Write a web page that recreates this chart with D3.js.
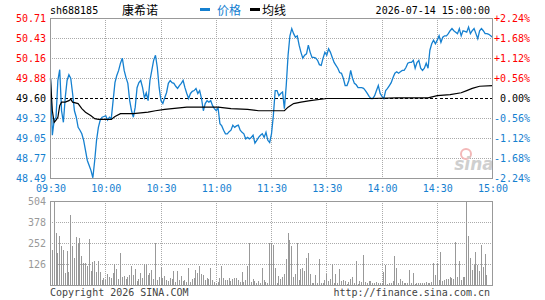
<!DOCTYPE html>
<html>
<head>
<meta charset="utf-8">
<script src="https://cdn.jsdelivr.net/npm/d3@7/dist/d3.min.js"></script>
<style>
body { margin: 0; background: #fff; }
svg text { font-family: "DejaVu Sans Mono", monospace; font-size: 10px; }
</style>
</head>
<body>
<svg id="chart" width="545" height="300"></svg>
<script>
// header info
var stockCode = "sh688185", stockName = "康希诺", stamp = "2026-07-14 15:00:00";
var preClose = 49.60;

// axis labels
var priceLabels = [50.71, 50.43, 50.16, 49.88, 49.60, 49.32, 49.05, 48.77, 48.49];
var pctLabels = ["+2.24%", "+1.68%", "+1.12%", "+0.56%", "0.00%", "-0.56%", "-1.12%", "-1.68%", "-2.24%"];
var timeLabels = ["09:30", "10:00", "10:30", "11:00", "11:30", "13:30", "14:00", "14:30", "15:00"];
var timeMinutes = [0, 30, 60, 90, 120, 150, 180, 210, 240];
var volLabels = [126, 252, 378, 504];

// price per minute (09:30-11:30, 13:01-15:00)
var price = [
  49.88,49.09,49.30,49.34,49.85,50.00,49.43,49.27,49.61,49.85,
  49.93,49.88,49.67,49.43,49.34,49.20,49.16,49.11,49.02,48.88,
  48.74,48.67,48.60,48.50,48.74,49.02,49.20,49.30,49.34,49.35,
  49.36,49.30,49.34,49.32,49.57,49.82,49.92,49.99,50.09,50.16,
  49.99,49.89,49.81,49.57,49.43,49.34,49.48,49.75,49.82,49.85,
  49.75,49.61,49.68,49.57,49.85,49.99,50.13,50.20,50.03,49.75,
  49.57,49.53,49.61,49.68,49.81,49.85,49.82,49.81,49.77,49.74,
  49.78,49.81,49.85,49.75,49.67,49.60,49.67,49.70,49.71,49.74,
  49.67,49.71,49.60,49.43,49.53,49.57,49.55,49.57,49.50,49.46,
  49.43,49.47,49.25,49.22,49.16,49.11,49.11,49.14,49.16,49.23,
  49.20,49.22,49.23,49.16,49.13,49.11,49.04,49.06,49.04,49.06,
  49.09,48.98,49.02,49.06,49.09,49.11,49.06,49.13,49.02,48.99,
  49.11,
  49.36,49.71,49.71,49.64,49.67,49.69,49.46,49.78,50.20,50.47,
  50.57,50.50,50.45,50.47,50.34,50.24,50.16,50.20,50.22,50.34,
  50.24,50.17,50.17,50.16,50.13,50.07,50.06,50.16,50.24,50.20,
  50.29,50.24,50.17,50.10,50.06,50.02,49.96,49.95,49.88,49.78,
  49.78,49.85,49.99,49.88,49.81,49.79,49.75,49.75,49.75,49.74,
  49.71,49.67,49.63,49.60,49.60,49.64,49.71,49.78,49.67,49.63,
  49.60,49.71,49.74,49.78,49.82,49.89,49.95,49.97,49.95,49.97,
  49.99,49.99,50.03,50.09,50.10,50.10,50.13,50.02,50.10,50.13,
  50.02,49.99,50.02,50.09,50.02,50.27,50.36,50.41,50.36,50.41,
  50.47,50.38,50.45,50.47,50.47,50.50,50.54,50.57,50.54,50.52,
  50.50,50.57,50.47,50.54,50.53,50.52,50.59,50.50,50.54,50.57,
  50.50,50.43,50.54,50.57,50.54,50.50,50.50,50.49,50.47,50.45
];

// average price line, read at a few minutes
var avgMinutes = [0,1,2,3,4,5,6,8,10,11,12,15,17,19,22,24,26,33,35,38,45,53,57,62,74,91,98,107,113,120,
                  127,129,132,136,141,150,174,188,205,210,217,223,226,229,233,240];
var avgPrice = [49.88,49.43,49.27,49.30,49.34,49.50,49.55,49.55,49.57,49.59,49.55,49.53,49.46,49.41,49.36,
                49.32,49.31,49.31,49.35,49.39,49.39,49.41,49.43,49.45,49.48,49.48,49.46,49.45,49.43,49.43,
                49.43,49.48,49.53,49.55,49.57,49.60,49.60,49.61,49.61,49.64,49.655,49.68,49.71,49.74,49.77,49.78];

// volume per minute
var volume = [
  30,210,500,310,195,295,235,210,70,205,
  80,420,235,165,290,255,285,175,135,130,
  115,275,85,140,145,80,145,80,30,40,
  30,65,50,40,70,125,95,35,195,50,
  55,35,50,60,115,60,95,25,35,70,
  45,125,125,60,75,90,35,255,30,50,
  110,40,55,30,25,40,35,85,20,85,
  30,55,25,30,20,100,20,35,40,90,
  70,115,65,60,30,45,35,105,30,18,
  10,20,45,115,45,30,30,40,25,35,
  40,40,30,20,80,20,30,115,255,20,
  35,25,15,25,15,105,30,20,15,250,
  250,
  240,100,15,55,35,50,65,155,315,270,
  235,50,65,250,30,95,105,85,160,195,
  65,15,15,60,15,155,10,15,30,65,
  25,35,125,15,65,15,95,25,30,25,
  5,20,35,50,15,145,5,25,20,180,
  20,15,25,25,10,15,20,15,10,15,
  80,120,5,10,15,25,175,100,15,35,
  25,10,15,10,90,10,75,5,10,10,
  10,15,10,20,10,15,20,135,60,130,
  30,200,25,30,35,35,50,45,35,260,
  50,145,30,50,50,500,295,165,90,120,
  200,120,85,240,110,185,60,0,0,0
];

var blue = "#1580d0", red = "#ff0000", gray = "#999";
var svg = d3.select("#chart");

var x = d3.scaleLinear().domain([0, 240]).range([50.5, 492.5]);
var y = d3.scaleLinear().domain([priceLabels[8], priceLabels[0]]).range([178.5, 18.5]);
var vy = d3.scaleLinear().domain([0, 504]).range([285.5, 201.5]);

// grids
var grid = svg.append("g").attr("shape-rendering", "crispEdges");
grid.selectAll("line.h").data(priceLabels.slice(1, 8)).enter().append("line")
    .attr("x1", 50).attr("x2", 492)
    .attr("y1", function(d) { return y(d); }).attr("y2", function(d) { return y(d); })
    .attr("stroke", function(d) { return d === preClose ? "#000" : "#aaa"; })
    .attr("stroke-dasharray", function(d) { return d === preClose ? "3,2" : "1,1"; });
grid.selectAll("line.v").data(timeMinutes.slice(1, 8)).enter().append("line")
    .attr("x1", function(d) { return x(d); }).attr("x2", function(d) { return x(d); })
    .attr("y1", 18).attr("y2", 178)
    .attr("stroke", "#aaa").attr("stroke-dasharray", "1,1");
grid.selectAll("line.vh").data(volLabels.slice(0, 3)).enter().append("line")
    .attr("x1", 50).attr("x2", 492)
    .attr("y1", function(d) { return vy(d); }).attr("y2", function(d) { return vy(d); })
    .attr("stroke", "#aaa").attr("stroke-dasharray", "1,1");
grid.selectAll("line.vv").data(timeMinutes.slice(1, 8)).enter().append("line")
    .attr("x1", function(d) { return x(d); }).attr("x2", function(d) { return x(d); })
    .attr("y1", 201).attr("y2", 285)
    .attr("stroke", "#aaa").attr("stroke-dasharray", "1,1");

// volume bars
svg.append("g").attr("shape-rendering", "crispEdges")
  .selectAll("rect").data(volume).enter().append("rect")
    .attr("x", function(d, i) { return Math.round(x(i) - 0.5); })
    .attr("width", 1)
    .attr("y", function(d) { return vy(d) - 0.5; })
    .attr("height", function(d) { return vy(0) - vy(d); })
    .attr("fill", gray);

// watermark
svg.append("circle").attr("cx", 466).attr("cy", 154).attr("r", 5)
    .attr("fill", "none").attr("stroke", "#f3b8b8").attr("stroke-width", 2);
svg.append("text").attr("x", 474).attr("y", 170).attr("text-anchor", "middle")
    .style("font-family", "DejaVu Sans").style("font-size", "17px")
    .style("font-style", "italic").style("font-weight", "bold")
    .attr("fill", "#cfcfcf").text("sina");

// lines
svg.append("path").datum(price)
    .attr("fill", "none").attr("stroke", blue).attr("stroke-width", 1.3)
    .attr("d", d3.line().x(function(d, i) { return x(i); }).y(function(d) { return y(d); }));
svg.append("path").datum(avgMinutes)
    .attr("fill", "none").attr("stroke", "#000").attr("stroke-width", 1.2)
    .attr("d", d3.line().x(function(d) { return x(d); }).y(function(d, i) { return y(avgPrice[i]); }));

// frames
svg.append("rect").attr("x", 50.5).attr("y", 18.5).attr("width", 442).attr("height", 160)
    .attr("fill", "none").attr("stroke", gray);
svg.append("rect").attr("x", 50.5).attr("y", 201.5).attr("width", 442).attr("height", 84)
    .attr("fill", "none").attr("stroke", gray);

// axes
function tickColor(i) { return i < 4 ? red : (i === 4 ? "#000" : blue); }

var left = svg.append("g").attr("transform", "translate(50,0)")
    .call(d3.axisLeft(y).tickValues(priceLabels).tickSize(0).tickPadding(4)
        .tickFormat(function(d, i) { return d.toFixed(2); }));
left.select(".domain").remove();
left.selectAll("text").attr("fill", function(d, i) { return tickColor(i); })
    .style("font-family", "DejaVu Sans Mono").style("font-size", "10px");

var right = svg.append("g").attr("transform", "translate(492,0)")
    .call(d3.axisRight(y).tickValues(priceLabels).tickSize(0).tickPadding(4)
        .tickFormat(function(d, i) { return pctLabels[i]; }));
right.select(".domain").remove();
right.selectAll("text").attr("fill", function(d, i) { return tickColor(i); })
    .attr("text-anchor", "end").attr("x", 38)
    .style("font-family", "DejaVu Sans Mono").style("font-size", "10px");

var bottom = svg.append("g").attr("transform", "translate(0,178)")
    .call(d3.axisBottom(x).tickValues(timeMinutes).tickSize(0).tickPadding(7)
        .tickFormat(function(d, i) { return timeLabels[i]; }));
bottom.select(".domain").remove();
bottom.selectAll("text").attr("fill", blue)
    .style("font-family", "DejaVu Sans Mono").style("font-size", "10px");

var vleft = svg.append("g").attr("transform", "translate(50,0)")
    .call(d3.axisLeft(vy).tickValues(volLabels).tickSize(0).tickPadding(4));
vleft.select(".domain").remove();
vleft.selectAll("text").attr("fill", gray)
    .style("font-family", "DejaVu Sans Mono").style("font-size", "10px");

// header
svg.append("text").attr("x", 50).attr("y", 14).attr("fill", "#000").text(stockCode);
svg.append("text").attr("x", 122).attr("y", 15).attr("fill", "#000")
    .style("font-family", "Noto Sans CJK SC").style("font-size", "12px").text(stockName);
svg.append("rect").attr("x", 200).attr("y", 8).attr("width", 10).attr("height", 3).attr("fill", blue);
svg.append("text").attr("x", 217).attr("y", 15).attr("fill", blue)
    .style("font-family", "Noto Sans CJK SC").style("font-size", "12px").text("价格");
svg.append("rect").attr("x", 250).attr("y", 8).attr("width", 10).attr("height", 3).attr("fill", "#000");
svg.append("text").attr("x", 262).attr("y", 15).attr("fill", "#000")
    .style("font-family", "Noto Sans CJK SC").style("font-size", "12px").text("均线");
svg.append("text").attr("x", 490).attr("y", 14).attr("text-anchor", "end").attr("fill", "#000").text(stamp);

// footer
svg.append("text").attr("x", 50).attr("y", 296).attr("fill", "#444").text("Copyright 2026 SINA.COM");
svg.append("text").attr("x", 490).attr("y", 296).attr("text-anchor", "end").attr("fill", "#444")
    .text("http://finance.sina.com.cn");
</script>
</body>
</html>
